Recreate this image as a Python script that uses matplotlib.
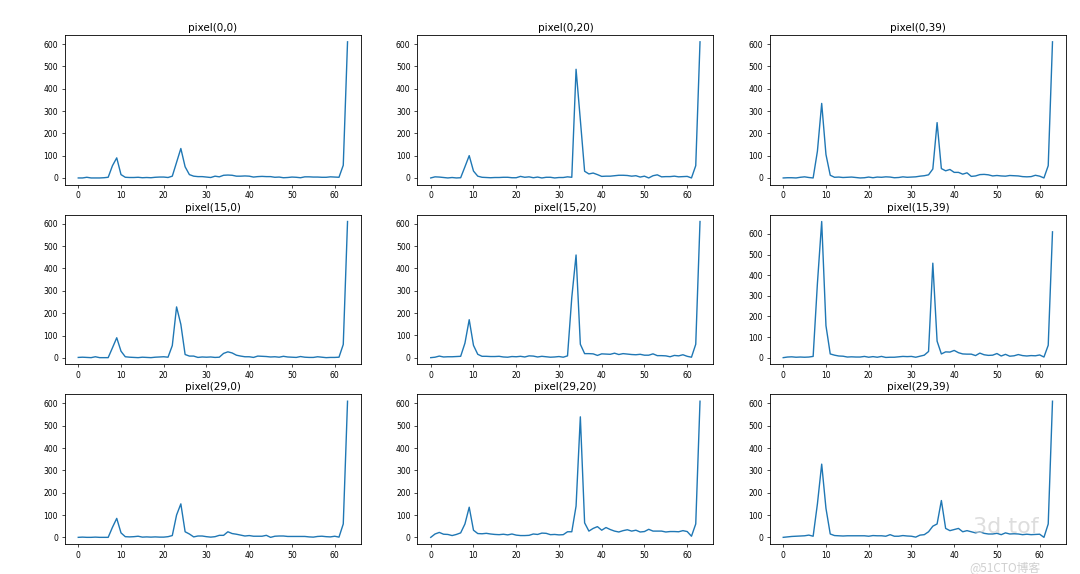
import matplotlib
matplotlib.use("Agg")
import matplotlib.pyplot as plt
import numpy as np

# ── Histogram bins (0..63) ───────────────────────────────────
bins = np.arange(64)

titles = [
    "pixel(0,0)", "pixel(0,20)", "pixel(0,39)",
    "pixel(15,0)", "pixel(15,20)", "pixel(15,39)",
    "pixel(29,0)", "pixel(29,20)", "pixel(29,39)",
]

# ── Counts ───────────────────────────────────────────────────
p_0_0 = [0, 0, 3, 0, 0, 0, 1, 3, 55, 90, 15, 3, 2, 2, 3, 1,
         2, 1, 3, 4, 4, 2, 8, 70, 132, 50, 15, 8, 6, 6, 4, 2,
         8, 5, 12, 13, 12, 8, 8, 9, 8, 4, 6, 7, 6, 6, 3, 4,
         1, 2, 4, 3, 1, 5, 5, 4, 4, 3, 3, 5, 4, 3, 57, 610]
p_0_20 = [0, 5, 4, 2, 0, 2, 0, 1, 50, 100, 31, 8, 3, 2, 1, 2,
          2, 3, 3, 1, 1, 7, 3, 5, 1, 4, 0, 3, 3, 0, 2, 2,
          5, 3, 487, 260, 30, 18, 22, 15, 7, 8, 8, 10, 12, 12, 11, 8,
          10, 4, 8, 0, 10, 14, 5, 6, 6, 8, 5, 6, 7, 0, 55, 610]
p_0_39 = [0, 1, 1, 0, 3, 5, 2, 0, 120, 334, 105, 12, 3, 4, 2, 3,
          4, 2, 0, 1, 4, 1, 4, 3, 5, 4, 1, 2, 5, 3, 4, 5,
          8, 10, 14, 40, 248, 42, 32, 38, 25, 25, 17, 23, 7, 9, 15, 16,
          14, 9, 11, 9, 8, 11, 10, 9, 6, 5, 6, 12, 8, 0, 55, 610]
p_15_0 = [2, 3, 2, 1, 5, 1, 1, 1, 45, 90, 30, 5, 3, 2, 1, 3,
          2, 1, 3, 4, 5, 3, 55, 228, 150, 15, 8, 8, 2, 4, 3, 4,
          2, 3, 20, 27, 22, 12, 8, 5, 5, 2, 8, 7, 6, 4, 5, 3,
          7, 4, 3, 2, 6, 3, 2, 2, 5, 3, 1, 2, 2, 3, 60, 610]
p_15_20 = [0, 2, 7, 3, 4, 4, 5, 6, 65, 170, 55, 15, 6, 6, 5, 5,
           6, 3, 2, 5, 4, 6, 3, 8, 7, 3, 6, 4, 2, 3, 5, 2,
           8, 270, 460, 60, 18, 18, 17, 10, 17, 16, 15, 20, 14, 18, 16, 14,
           13, 15, 11, 11, 17, 9, 9, 8, 4, 10, 8, 13, 6, 2, 60, 610]
p_15_39 = [0, 3, 4, 2, 3, 2, 3, 6, 360, 660, 155, 18, 12, 8, 7, 3,
           4, 3, 3, 6, 2, 5, 2, 6, 1, 2, 2, 4, 6, 5, 6, 2,
           7, 12, 30, 458, 80, 18, 28, 27, 35, 24, 18, 17, 17, 10, 22, 14,
           11, 12, 20, 8, 16, 7, 9, 15, 10, 8, 10, 9, 13, 3, 60, 610]
p_29_0 = [0, 1, 0, 0, 1, 0, 0, 0, 45, 85, 20, 3, 2, 3, 5, 1,
          2, 1, 2, 1, 1, 3, 8, 100, 150, 25, 15, 2, 6, 6, 3, 1,
          3, 9, 9, 25, 17, 14, 10, 6, 8, 5, 5, 5, 9, 0, 5, 6,
          6, 4, 4, 4, 4, 4, 2, 1, 4, 5, 3, 2, 5, 1, 60, 610]
p_29_20 = [0, 15, 22, 14, 13, 8, 13, 20, 60, 135, 32, 17, 16, 18, 15, 13,
           12, 14, 11, 15, 10, 8, 8, 9, 15, 13, 19, 18, 12, 13, 11, 12,
           25, 25, 140, 540, 65, 28, 40, 48, 32, 44, 35, 28, 24, 30, 34, 28,
           32, 24, 26, 36, 28, 28, 28, 24, 26, 26, 25, 30, 26, 5, 60, 610]
p_29_39 = [0, 2, 4, 5, 6, 7, 10, 5, 150, 328, 130, 15, 8, 7, 6, 7,
           7, 7, 7, 7, 5, 8, 7, 7, 5, 12, 5, 5, 8, 6, 5, 1,
           10, 12, 25, 50, 60, 165, 40, 30, 35, 40, 25, 30, 25, 20, 25, 18,
           15, 15, 18, 12, 20, 15, 16, 15, 12, 14, 12, 13, 14, 0, 60, 610]

series = [p_0_0, p_0_20, p_0_39,
          p_15_0, p_15_20, p_15_39,
          p_29_0, p_29_20, p_29_39]

# ── Figure ───────────────────────────────────────────────────
fig, axes = plt.subplots(3, 3, figsize=(10.8, 5.74), dpi=100)
fig.subplots_adjust(left=0.060, right=0.987, top=0.939, bottom=0.052,
                    wspace=0.19, hspace=0.2)

for ax, title, vals in zip(axes.flat, titles, series):
    ax.plot(bins, vals, color="#1f77b4", linewidth=1.0)
    ax.set_title(title, fontsize=7.5, pad=3)
    ax.set_xticks([0, 10, 20, 30, 40, 50, 60])
    ax.tick_params(labelsize=5.5, length=2, width=0.5, pad=2.8)
    for sp in ax.spines.values():
        sp.set_linewidth(0.6)

# faint watermark
fig.text(0.901, 0.071, "3d tof", fontsize=16, color="#cfcfcf", alpha=0.7)
fig.text(0.898, 0.004, "@51CTO博客", fontsize=8.5, color="#c4c4c4", alpha=0.8,
         family=["Noto Sans CJK SC", "DejaVu Sans"])

plt.savefig("out.png", dpi=100, facecolor="white")
